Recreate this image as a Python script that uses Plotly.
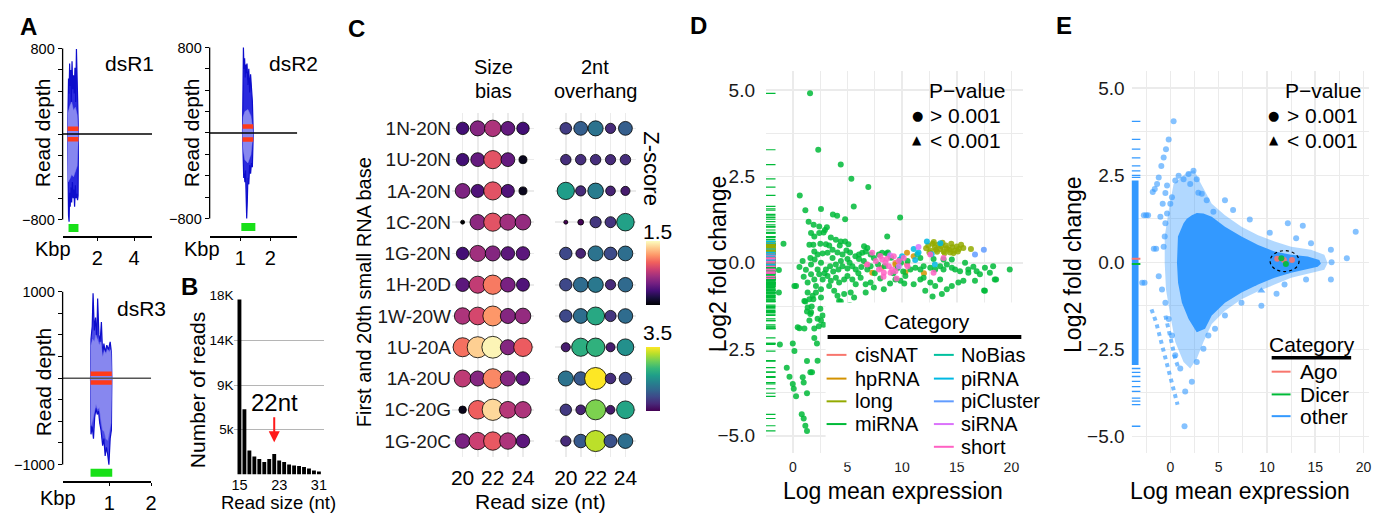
import plotly.graph_objects as go

W, H = 1381, 514
FONT = "Liberation Sans, Arial, Helvetica, sans-serif"
SYM = "DejaVu Sans"

# ======================= Panel A: read depth (Kbp, depth) =======================
dsR1_plus_x = [0.38, 0.40, 0.43, 0.46, 0.49, 0.52, 0.55, 0.58, 0.62, 0.66, 0.70, 0.74, 0.78, 0.82, 0.86, 0.90, 0.94, 0.97]
dsR1_plus_y = [0, 420, 520, 380, 660, 450, 600, 300, 680, 420, 550, 380, 620, 300, 795, 500, 150, 0]
dsR1_minus_x = [0.38, 0.40, 0.43, 0.46, 0.49, 0.52, 0.56, 0.60, 0.64, 0.68, 0.72, 0.76, 0.80, 0.84, 0.88, 0.92, 0.95, 0.97]
dsR1_minus_y = [0, -620, -760, -820, -550, -680, -500, -640, -450, -600, -520, -680, -480, -600, -560, -620, -580, 0]
dsR1_core_x = [0.38, 0.40, 0.50, 0.60, 0.70, 0.80, 0.90, 0.97]
dsR1_core_plus = [0, 200, 260, 300, 220, 250, 180, 0]
dsR1_core_minus = [0, -450, -420, -380, -400, -350, -300, 0]

dsR2_plus_x = [1.07, 1.09, 1.10, 1.12, 1.14, 1.16, 1.18, 1.20, 1.22, 1.25, 1.28, 1.31, 1.34, 1.37, 1.40, 1.43]
dsR2_plus_y = [0, 500, 800, 600, 700, 520, 640, 560, 650, 450, 600, 380, 550, 420, 300, 0]
dsR2_minus_x = [1.07, 1.09, 1.11, 1.13, 1.15, 1.17, 1.19, 1.21, 1.23, 1.25, 1.28, 1.31, 1.34, 1.37, 1.40, 1.43]
dsR2_minus_y = [0, -300, -420, -380, -460, -350, -520, -800, -640, -420, -480, -300, -380, -280, -320, 0]
dsR2_core_x = [1.07, 1.09, 1.15, 1.25, 1.35, 1.43]
dsR2_core_plus = [0, 150, 200, 220, 160, 0]
dsR2_core_minus = [0, -150, -250, -280, -200, 0]

dsR3_plus_x = [0.55, 0.56, 0.59, 0.61, 0.64, 0.67, 0.70, 0.72, 0.75, 0.78, 0.81, 0.84, 0.87, 0.90, 0.94, 0.98, 1.02, 1.05, 1.06]
dsR3_plus_y = [0, 450, 600, 980, 550, 700, 450, 920, 500, 420, 650, 260, 400, 300, 380, 330, 420, 300, 0]
dsR3_minus_x = [0.55, 0.56, 0.59, 0.62, 0.65, 0.68, 0.71, 0.74, 0.77, 0.80, 0.84, 0.87, 0.90, 0.93, 0.96, 0.99, 1.02, 1.05, 1.06]
dsR3_minus_y = [0, -650, -560, -700, -450, -350, -420, -380, -520, -600, -780, -700, -900, -800, -880, -1000, -700, -600, 0]
dsR3_core_x = [0.55, 0.56, 0.60, 0.64, 0.68, 0.72, 0.76, 0.80, 0.84, 0.88, 0.92, 0.96, 1.00, 1.04, 1.06]
dsR3_core_plus = [0, 380, 450, 420, 500, 450, 380, 420, 240, 320, 280, 330, 300, 330, 0]
dsR3_core_minus = [0, -550, -480, -400, -300, -360, -340, -480, -600, -620, -700, -720, -600, -520, 0]

# 22nt reads (red) and dsRNA locus (green bar): [start, end], depth
dsR1_red = [0.38, 0.97]; dsR1_red_depth = 50
dsR2_red = [1.07, 1.43]; dsR2_red_depth = 60
dsR3_red = [0.55, 1.06]; dsR3_red_depth = 50
dsR1_locus = [0.43, 0.97]; dsR1_locus_y = -880
dsR2_locus = [1.03, 1.50]; dsR2_locus_y = -880
dsR3_locus = [0.55, 1.07]; dsR3_locus_y = -1095

# ======================= Panel B: read size histogram =======================
read_size = list(range(15, 32))
read_count = [17600, 6550, 2400, 1800, 1550, 1250, 1550, 2050, 1400, 1250, 1000, 900, 850, 750, 600, 400, 300]
b_tickvals = [4500, 9000, 13500, 18000]
b_ticktext = ["5k", "9K", "14K", "18K"]

# ======================= Panel C: z-score dot plot =======================
rows = ["1N-20N", "1U-20N", "1A-20N", "1C-20N", "1G-20N", "1H-20D",
        "1W-20W", "1U-20A", "1A-20U", "1C-20G", "1G-20C"]
sizes_nt = [20, 21, 22, 23, 24]
size_bias_z = [
    [-0.84, -0.36, -0.06, -0.60, -0.84],
    [-0.84, -0.60, 0.36, -0.60, -1.35],
    [-0.42, -0.75, 0.36, -0.75, -1.35],
    [-1.50, -0.30, 0.36, -0.15, -0.24],
    [-0.84, -0.15, -0.36, -0.66, -0.66],
    [-0.66, 0.09, 0.66, -0.45, -0.75],
    [-0.06, 0.24, 0.84, -0.36, -0.24],
    [0.60, 1.20, 1.44, -0.36, 0.45],
    [0.06, -0.36, 0.75, -0.36, -0.66],
    [-1.38, 0.48, 1.26, 0.00, -0.06],
    [-0.45, 0.15, 0.42, -0.06, -0.66],
]
overhang_z = [
    [-0.60, 0.00, 0.40, -0.90, 0.00],
    [-0.85, -0.85, -0.85, -0.90, -0.85],
    [1.25, -0.90, 0.60, -1.00, -1.10],
    [-1.50, -1.45, -0.70, -0.75, 1.35],
    [-0.40, -1.00, 0.40, -0.35, 0.30],
    [-0.40, 0.25, 0.50, -0.90, 0.20],
    [-0.40, 0.30, 1.50, -0.70, 0.25],
    [-1.10, 1.60, 1.70, -1.10, 1.00],
    [0.40, -0.10, 3.50, -0.85, -0.40],
    [-0.65, -1.00, 2.50, -1.15, 1.40],
    [-0.90, -0.10, 3.00, -0.25, 0.30],
]
size_bias_range = [-1.5, 1.5]
overhang_range = [-1.5, 3.5]

# ======================= Panel D: MA plot, small RNA categories =======================
d_categories = ["cisNAT", "hpRNA", "long", "miRNA", "NoBias", "piRNA", "piCluster", "siRNA", "short"]
d_colors = ["#F8766D", "#D39200", "#93AA00", "#00BA38", "#00C19F", "#00B9E3", "#619CFF", "#DB72FB", "#FF61C3"]
d_mirna = [
    (1.58, 4.90), (2.33, 3.27), (4.39, 2.84), (5.36, 2.43), (6.91, 2.19), (0.64, 1.95), (1.15, 1.52), (2.58, 1.56),
    (5.58, 1.63), (3.67, 1.40), (4.06, 1.36), (4.79, 1.26), (9.82, 1.31), (1.45, 1.19), (1.91, 1.10), (2.42, 1.05),
    (3.12, 1.03), (2.94, 0.95), (1.67, 0.86), (2.42, 0.86), (2.82, 0.88), (1.97, 0.76), (3.48, 0.73), (3.94, 0.67),
    (4.39, 0.62), (4.79, 0.62), (5.09, 0.54), (4.30, 0.50), (3.03, 0.54), (3.33, 0.50), (2.52, 0.55), (1.88, 0.52),
    (1.52, 0.52), (-0.85, 0.55), (8.64, 0.76), (6.52, 0.48), (6.82, 0.43), (6.67, 0.33), (6.36, 0.29), (6.06, 0.24),
    (5.73, 0.19), (8.58, 0.27), (7.88, 0.24), (8.18, 0.29), (1.97, 0.33), (2.27, 0.24), (2.73, 0.27), (3.18, 0.29),
    (3.64, 0.38), (4.09, 0.30), (4.55, 0.24), (4.91, 0.36), (5.24, 0.30), (1.61, 0.14), (3.64, 0.14), (5.00, 0.11),
    (6.06, 0.11), (7.12, 0.24), (7.42, 0.14), (0.90, 0.05), (2.00, 0.10), (4.40, 0.05), (5.20, 0.00), (6.50, 0.05),
    (-1.27, -0.21), (0.61, -0.12), (1.67, -0.05), (2.27, -0.19), (2.58, 0.00), (3.03, -0.19), (3.42, -0.10), (3.94, -0.05),
    (4.18, -0.19), (4.55, -0.10), (5.00, -0.16), (5.45, -0.10), (5.76, -0.19), (6.27, -0.12), (6.82, -0.19), (7.12, -0.10),
    (10.76, -0.19), (11.21, -0.14), (11.67, -0.19), (11.97, -0.10), (12.58, -0.14), (13.03, -0.19), (13.48, -0.10),
    (13.79, -0.19), (14.09, -0.05), (14.55, -0.14), (14.85, -0.19), (15.30, -0.24), (15.76, 0.00), (16.06, -0.19),
    (16.52, -0.11), (16.82, -0.24), (17.58, -0.14), (18.33, -0.10), (19.85, -0.19), (12.88, 0.11), (13.79, 0.10),
    (14.55, 0.10), (11.67, 0.14), (1.20, -0.20), (2.90, -0.30), (3.70, -0.25), (6.00, -0.30), (7.50, -0.30),
    (7.80, -0.05), (8.00, -0.45), (8.90, -0.60), (9.60, -0.15), (10.20, -0.60), (10.50, 0.05), (8.40, -0.10),
    (9.00, 0.15), (9.20, -0.30), (9.90, 0.00), (10.10, -0.25), (8.70, 0.30),
    (1.00, -0.40), (1.67, -0.33), (1.97, -0.48), (2.42, -0.33), (2.73, -0.48), (3.18, -0.38), (3.48, -0.52), (3.94, -0.43),
    (4.24, -0.57), (4.70, -0.48), (5.00, -0.38), (5.45, -0.48), (5.76, -0.62), (6.21, -0.43), (6.67, -0.62), (7.12, -0.57),
    (7.42, -0.71), (8.33, -0.76), (0.30, -0.67), (1.36, -0.57), (2.12, -0.67), (2.58, -0.76), (3.33, -0.67), (3.79, -0.81),
    (4.24, -1.10), (4.70, -0.90), (5.30, -0.86), (5.61, -1.00), (6.67, -0.86), (1.36, -0.86), (1.88, -1.05), (2.58, -1.00),
    (1.06, -1.10), (11.06, -0.62), (11.67, -0.48), (12.12, -0.81), (12.58, -0.57), (13.03, -0.67), (13.48, -0.48),
    (14.09, -0.76), (14.55, -0.67), (15.15, -0.57), (15.61, -0.52), (16.06, -0.29), (16.67, -0.52), (17.12, -0.33),
    (17.58, -0.81), (18.03, -0.29), (18.48, -0.48), (12.79, -0.97), (13.64, -0.90), (11.97, -0.43), (10.30, -0.38),
    (9.85, -0.52), (9.39, -0.48), (17.50, -0.80), (18.60, -0.48), (-1.27, -0.86), (0.15, -0.67), (1.15, -1.12),
    (1.52, -1.05), (1.82, -0.95), (2.12, -0.86), (1.36, -1.29), (1.67, -1.43), (2.52, -1.33), (2.73, -1.52), (2.58, -1.67),
    (1.97, -1.90), (3.33, -1.38), (4.39, -1.12), (5.21, -1.22), (4.09, -0.95), (1.52, -1.67),
    (1.30, -1.41), (1.61, -1.48), (1.73, -1.26), (2.27, -1.62), (2.82, -1.79), (2.39, -1.83), (0.45, -1.86), (0.61, -1.89),
    (1.06, -1.90), (1.97, -2.17), (2.21, -2.33), (-1.18, -2.36), (0.00, -2.33), (0.15, -2.55), (1.30, -2.84), (2.27, -2.83),
    (-0.55, -3.03), (-0.30, -3.29), (0.91, -3.31), (1.00, -3.46), (0.00, -3.50), (0.09, -3.64), (1.61, -3.16), (1.76, -3.16),
    (0.30, -3.86), (1.30, -3.77), (0.82, -4.38), (1.00, -4.50), (1.15, -4.71), (1.30, -4.86),
]
d_long = [
    (12.2, 0.42), (12.4, 0.50), (12.6, 0.35), (12.8, 0.55), (13.0, 0.45), (13.1, 0.38), (13.3, 0.52), (13.5, 0.40),
    (13.6, 0.48), (13.8, 0.33), (14.0, 0.50), (14.1, 0.42), (14.3, 0.38), (14.5, 0.55), (14.6, 0.45), (14.8, 0.35),
    (15.0, 0.47), (15.2, 0.40), (15.4, 0.52), (15.6, 0.43), (12.5, 0.30), (13.2, 0.32), (13.9, 0.28), (14.4, 0.30),
    (15.1, 0.33), (12.9, 0.60), (13.7, 0.58), (14.7, 0.28), (16.3, 0.40),
]
d_pirna = [(11.06, 0.40), (12.27, 0.62), (11.5, 0.30), (10.0, 0.19), (11.2, 0.08), (13.5, 0.57), (13.0, -0.05), (12.7, 0.25)]
d_picluster = [(17.48, 0.38), (16.67, 0.24)]
d_sirna = [(11.5, 0.46), (9.7, -0.10), (8.9, 0.22)]
d_short = [
    (6.82, -0.05), (7.27, 0.29), (8.18, 0.10), (8.48, 0.00), (8.79, -0.10), (9.09, -0.19), (8.33, -0.29), (9.24, 0.19),
    (9.70, 0.05), (10.15, 0.14), (12.88, -0.29), (13.79, 0.14), (12.58, 0.24), (7.88, -0.19), (8.94, -0.29),
    (8.64, 0.12), (9.39, -0.24), (8.00, 0.20), (9.50, -0.45), (10.50, -0.10), (7.60, 0.05), (8.30, -0.40),
]
d_cisnat = [(6.76, -0.05), (9.39, 0.00), (10.45, -0.05), (8.10, -0.15)]
d_hprna = [(7.27, -0.29), (9.39, -0.05), (10.45, 0.29), (11.06, 0.19), (10.30, -0.27), (12.00, -0.30)]
d_nobias = [(9.8, 0.10), (11.4, 0.25)]

# ======================= Panel E: MA plot, Ago / Dicer =======================
e_core_x = [0.69, 0.79, 1.37, 1.71, 2.23, 2.74, 3.43, 4.29, 5.66, 7.37, 9.09, 10.80, 12.52, 14.23, 15.43, 15.60,
            15.26, 13.89, 12.52, 10.80, 9.09, 7.37, 5.66, 4.29, 3.60, 2.74, 1.89, 1.20, 0.80]
e_core_y = [-0.02, 0.74, 1.12, 1.25, 1.35, 1.42, 1.40, 1.31, 1.02, 0.74, 0.50, 0.31, 0.22, 0.17, 0.07, -0.04,
            -0.13, -0.21, -0.30, -0.44, -0.64, -0.87, -1.16, -1.53, -1.91, -2.01, -1.63, -1.16, -0.59]
e_halo_x = [-0.58, -0.58, -0.17, 0.34, 1.71, 2.47, 3.09, 4.29, 5.66, 7.37, 9.09, 10.80, 12.52, 14.57, 15.95, 16.29,
            15.95, 14.57, 12.52, 10.80, 9.09, 7.37, 5.66, 4.29, 3.43, 2.74, 2.06, 1.37, 0.51, 0.00, -0.45]
e_halo_y = [-0.02, 0.74, 1.49, 2.25, 2.58, 2.65, 2.30, 1.68, 1.35, 1.02, 0.78, 0.60, 0.45, 0.36, 0.22, -0.02,
            -0.21, -0.30, -0.44, -0.64, -0.83, -1.06, -1.39, -1.77, -2.29, -2.77, -3.05, -2.86, -2.29, -1.53, -0.78]
e_other = [
    (0.51, 2.35), (0.86, 2.49), (1.37, 2.39), (1.89, 2.54), (2.40, 2.63), (2.06, 2.25), (2.74, 2.39), (0.17, 1.87),
    (0.00, 1.68), (-0.34, 1.40), (-0.51, 1.12), (-0.58, 0.74), (-0.69, 0.45), (4.46, 1.45), (3.77, 1.78), (3.26, 1.97),
    (5.66, 1.78), (8.23, 1.23), (12.17, 1.12), (13.72, 1.05), (13.03, 0.69), (14.57, 0.55), (16.63, 0.36), (16.70, 0.00),
    (18.28, 0.12), (19.20, 0.88), (16.63, -0.49), (14.06, -0.49), (11.83, -0.64), (9.43, -1.25), (7.37, -1.16),
    (5.66, -1.53), (4.63, -1.91), (3.94, -2.10), (3.43, -2.48), (2.74, -2.86), (2.23, -3.43), (1.54, -3.71), (1.03, -3.05),
    (0.51, -2.67), (0.17, -2.10), (-0.17, -1.63), (-0.51, -1.16), (-0.86, -0.78), (-1.20, -0.40), (1.47, -4.71),
    (0.34, 4.05), (-0.17, 3.53), (-0.45, 3.25), (-0.69, 3.01), (-0.93, 2.77), (-1.20, 2.44), (-1.37, 2.25), (-1.61, 2.11),
    (-1.82, 2.02), (-0.34, 2.21), (-0.51, 1.99), (-0.79, 1.68), (-1.03, 1.31), (-2.74, 1.35), (-2.50, 1.35), (-2.30, 1.35),
    (-1.71, 0.39), (-1.47, 0.39), (-2.91, -0.59), (-2.67, -0.59), (10.3, 0.85), (11.0, -0.9), (6.5, 1.5), (2.9, 2.0),
]
e_other_sig = [(9.43, -0.82), (8.50, -0.62)]
e_streak1_x = [-1.95, -1.71, -1.47, -1.20, -1.03, -0.79, -0.51, -0.17, 0.17, 0.51, 0.75]
e_streak1_y = [-1.35, -1.53, -1.72, -2.01, -2.20, -2.48, -2.77, -3.14, -3.52, -3.86, -4.09]
e_streak2_x = [-0.51, -0.27, 0.00, 0.17, 0.51, 0.86]
e_streak2_y = [-1.53, -1.82, -2.10, -2.39, -2.77, -3.05]
e_ago = [(11.07, 0.10), (11.76, 0.07), (12.60, 0.07)]
e_dicer = [(11.50, 0.12), (11.97, -0.05)]
e_rug_band = [-2.95, 2.35]
e_rug_ticks = [4.05, 3.53, 3.25, 3.00, 2.77, 2.63, 2.50, 2.44, -3.05, -3.16, -3.28, -3.42, -3.57, -3.71,
               -3.90, -3.99, -4.09, -4.71]
e_categories = ["Ago", "Dicer", "other"]
e_colors = ["#F8766D", "#00BA38", "#3399FF"]

# ======================= helpers =======================
def xdom(a, b):
    return [a / W, b / W]

def ydom(top, bot):
    return [1 - bot / H, 1 - top / H]

def unzip(pts):
    return [p[0] for p in pts], [p[1] for p in pts]

annotations = []
shapes = []

def ann(text, x, y, size, angle=0, xanchor="center", bold=False, family=FONT, color="black", yanchor="middle"):
    annotations.append(dict(text=("<b>%s</b>" % text) if bold else text, x=x / W, y=1 - y / H,
                            xref="paper", yref="paper", showarrow=False, textangle=angle,
                            xanchor=xanchor, yanchor=yanchor, borderpad=0,
                            font=dict(size=size, family=family, color=color)))

def pline(x0, y0, x1, y1, color, width, layer="above"):
    shapes.append(dict(type="line", xref="paper", yref="paper", x0=x0 / W, x1=x1 / W,
                       y0=1 - y0 / H, y1=1 - y1 / H, line=dict(color=color, width=width), layer=layer))

fig = go.Figure()

# ---------------- Panel A traces ----------------
A_panels = [
    ("x", "y", dsR1_plus_x, dsR1_plus_y, dsR1_minus_x, dsR1_minus_y, dsR1_core_x, dsR1_core_plus, dsR1_core_minus,
     dsR1_red, dsR1_red_depth, dsR1_locus, dsR1_locus_y, "#2a2ade"),
    ("x2", "y2", dsR2_plus_x, dsR2_plus_y, dsR2_minus_x, dsR2_minus_y, dsR2_core_x, dsR2_core_plus, dsR2_core_minus,
     dsR2_red, dsR2_red_depth, dsR2_locus, dsR2_locus_y, "#2a2ade"),
    ("x3", "y3", dsR3_plus_x, dsR3_plus_y, dsR3_minus_x, dsR3_minus_y, dsR3_core_x, dsR3_core_plus, dsR3_core_minus,
     dsR3_red, dsR3_red_depth, dsR3_locus, dsR3_locus_y, "#4a4ae6"),
]
for (xa, ya, px_, py_, mx_, my_, cx_, cp_, cm_, red, rd, loc, locy, outer) in A_panels:
    for xs, ys in ((px_, py_), (mx_, my_)):
        fig.add_trace(go.Scatter(x=xs, y=ys, xaxis=xa, yaxis=ya, mode="lines", fill="tozeroy",
                                 fillcolor=outer, line=dict(color="#0d0dcc", width=1.2), hoverinfo="skip"))
    for ys in (cp_, cm_):
        fig.add_trace(go.Scatter(x=cx_, y=ys, xaxis=xa, yaxis=ya, mode="lines", fill="tozeroy",
                                 fillcolor="#8787ef", line=dict(color="#8787ef", width=0.5), hoverinfo="skip"))
    for sgn in (1, -1):
        fig.add_trace(go.Scatter(x=red, y=[sgn * rd, sgn * rd], xaxis=xa, yaxis=ya, mode="lines",
                                 line=dict(color="#ff3a1a", width=4.5), hoverinfo="skip"))
    fig.add_trace(go.Scatter(x=loc, y=[locy, locy], xaxis=xa, yaxis=ya, mode="lines",
                             line=dict(color="#18e018", width=8), hoverinfo="skip"))

# ---------------- Panel B ----------------
fig.add_trace(go.Bar(x=read_size, y=read_count, xaxis="x4", yaxis="y4", marker=dict(color="black", line=dict(width=0)),
                     width=0.78, hoverinfo="skip"))

# ---------------- Panel C ----------------
def dot_size(z, rng):
    t = max((z - rng[0]) / (rng[1] - rng[0]), 0.0)
    return 4 + 18 * t ** 0.5

for zmat, rng, cs, xa, cb_top, cb_bot in ((size_bias_z, size_bias_range, "magma", "x5", 238, 302),
                                          (overhang_z, overhang_range, "viridis", "x6", 345, 409)):
    xs, ys, zs = [], [], []
    for r, zrow in zip(rows, zmat):
        for s, z in zip(sizes_nt, zrow):
            xs.append(s); ys.append(r); zs.append(z)
    fig.add_trace(go.Scatter(
        x=xs, y=ys, xaxis=xa, yaxis="y5" if xa == "x5" else "y6", mode="markers", hoverinfo="skip",
        marker=dict(color=zs, colorscale=cs, cmin=rng[0], cmax=rng[1], size=[dot_size(z, rng) for z in zs],
                    line=dict(color="black", width=0.8), opacity=1,
                    colorbar=dict(x=647 / W, xanchor="left", xpad=0, ypad=0, thickness=14, lenmode="pixels",
                                  len=cb_bot - cb_top, y=1 - (cb_top + cb_bot) / 2 / H, yanchor="middle",
                                  outlinewidth=0, ticks="", showticklabels=False))))

# ---------------- Panel D ----------------
d_groups = {"cisNAT": d_cisnat, "hpRNA": d_hprna, "long": d_long, "miRNA": d_mirna, "NoBias": d_nobias,
            "piRNA": d_pirna, "piCluster": d_picluster, "siRNA": d_sirna, "short": d_short}
D_XR = [-2.45, 21.09]
D_YR = [-5.49, 5.54]
E_XR = [-4.01, 20.58]
E_YR = [-5.47, 5.49]

def rug(vals, xr, color, xa, ya, width=1.2):
    x0, x1 = xr[0], xr[0] + 0.037 * (xr[1] - xr[0])
    xs, ys = [], []
    for v in vals:
        xs += [x0, x1, None]; ys += [v, v, None]
    return go.Scatter(x=xs, y=ys, xaxis=xa, yaxis=ya, mode="lines", line=dict(color=color, width=width),
                      hoverinfo="skip")

for cat, col in zip(d_categories, d_colors):
    xs, ys = unzip(d_groups[cat])
    fig.add_trace(go.Scatter(x=xs, y=ys, xaxis="x7", yaxis="y7", mode="markers", hoverinfo="skip",
                             marker=dict(color=col, size=6, opacity=0.85, line=dict(width=0))))
for cat, col in zip(["miRNA", "long", "short", "piRNA"], ["#00BA38", "#93AA00", "#FF61C3", "#00B9E3"]):
    fig.add_trace(rug(unzip(d_groups[cat])[1], D_XR, col, "x7", "y7"))

# ---------------- Panel E ----------------
fig.add_trace(go.Scatter(x=e_halo_x, y=e_halo_y, xaxis="x8", yaxis="y8", mode="lines", fill="toself",
                         fillcolor="rgba(51,153,255,0.38)", line=dict(width=0), hoverinfo="skip"))
fig.add_trace(go.Scatter(x=e_core_x, y=e_core_y, xaxis="x8", yaxis="y8", mode="lines", fill="toself",
                         fillcolor="#3399FF", line=dict(width=0), hoverinfo="skip"))
ox, oy = unzip(e_other)
fig.add_trace(go.Scatter(x=ox, y=oy, xaxis="x8", yaxis="y8", mode="markers", hoverinfo="skip",
                         marker=dict(color="#3399FF", size=6, opacity=0.6, line=dict(width=0))))
sx, sy = unzip(e_other_sig)
fig.add_trace(go.Scatter(x=sx, y=sy, xaxis="x8", yaxis="y8", mode="markers", hoverinfo="skip",
                         marker=dict(color="#3399FF", size=7, opacity=0.7, symbol="triangle-up", line=dict(width=0))))
for xs, ys in ((e_streak1_x, e_streak1_y), (e_streak2_x, e_streak2_y)):
    fig.add_trace(go.Scatter(x=xs, y=ys, xaxis="x8", yaxis="y8", mode="lines", hoverinfo="skip",
                             line=dict(color="rgba(51,153,255,0.65)", width=4, dash="dot")))
for pts, col in ((e_ago, e_colors[0]), (e_dicer, e_colors[1])):
    xs, ys = unzip(pts)
    fig.add_trace(go.Scatter(x=xs, y=ys, xaxis="x8", yaxis="y8", mode="markers", hoverinfo="skip",
                             marker=dict(color=col, size=6, opacity=0.9, line=dict(width=0))))
# rug for E
e_rx = E_XR[0] + 0.0145 * (E_XR[1] - E_XR[0])
fig.add_trace(go.Scatter(x=[e_rx, e_rx], y=e_rug_band, xaxis="x8", yaxis="y8", mode="lines",
                         line=dict(color="#3399FF", width=7), hoverinfo="skip"))
fig.add_trace(rug(e_rug_ticks, E_XR, "#3399FF", "x8", "y8", width=1.3))
fig.add_trace(rug([e_ago[0][1]], E_XR, e_colors[0], "x8", "y8", width=2))
fig.add_trace(rug([e_dicer[1][1]], E_XR, e_colors[1], "x8", "y8", width=2))

# highlight ellipse around Ago/Dicer points
hx = [p[0] for p in e_ago + e_dicer]
hy = [p[1] for p in e_ago + e_dicer]
cxm, cym = (min(hx) + max(hx)) / 2, (min(hy) + max(hy)) / 2
shapes.append(dict(type="circle", xref="x8", yref="y8", x0=cxm - 1.5, x1=cxm + 1.5, y0=cym - 0.3, y1=cym + 0.3,
                   line=dict(color="black", width=1.2, dash="dot"), layer="above"))

# ---------------- Axes ----------------
TF = dict(family=FONT, color="black")

def axis(**kw):
    d = dict(showgrid=False, zeroline=False, showline=False, ticks="", fixedrange=True,
             tickfont=dict(TF, size=14))
    d.update(kw)
    return d

layout = dict(width=W, height=H, margin=dict(l=0, r=0, t=0, b=0), paper_bgcolor="white",
              plot_bgcolor="rgba(0,0,0,0)", showlegend=False, font=dict(family=FONT, color="black"))

a_xcommon = dict(showline=True, linecolor="black", linewidth=1.3, ticks="outside", ticklen=3,
                 tickcolor="black", tickfont=dict(TF, size=20))
def a_y(vals, lab):
    return dict(tickvals=vals, ticktext=[("−%d" % abs(v)) if v == -lab else (str(v) if v == lab else "") for v in vals],
                ticks="outside", ticklen=4, tickcolor="black", tickfont=dict(TF, size=14.5))

layout["xaxis"] = axis(domain=xdom(60, 150), range=[0.108, 4.97], anchor="y", tickvals=[2, 4], **a_xcommon)
layout["yaxis"] = axis(domain=ydom(40, 233), range=[-957, 828], anchor="x", **a_y(list(range(-800, 801, 200)), 800))
layout["xaxis2"] = axis(domain=xdom(208, 296), range=[-0.033, 2.9], anchor="y2", tickvals=[1, 2], **a_xcommon)
layout["yaxis2"] = axis(domain=ydom(40, 233), range=[-966, 818], anchor="x2", **a_y(list(range(-800, 801, 200)), 800))
layout["xaxis3"] = axis(domain=xdom(60, 149), range=[-0.12, 2.0], anchor="y3", tickvals=[1, 2], **a_xcommon)
layout["yaxis3"] = axis(domain=ydom(285, 481), range=[-1194, 1046], anchor="x3", **a_y(list(range(-1000, 1001, 250)), 1000))

for xa, ya, zc in (("x", "y", "black"), ("x2", "y2", "black"), ("x3", "y3", "#555555")):
    shapes.append(dict(type="line", xref=xa + " domain", yref=ya, x0=0, x1=1, y0=0, y1=0,
                       line=dict(color=zc, width=1.5), layer="above"))
for xa, ya, lab in (("x", "y", 800), ("x2", "y2", 800), ("x3", "y3", 1000)):
    shapes.append(dict(type="line", xref=xa + " domain", yref=ya, x0=0, x1=0, y0=-lab, y1=lab,
                       line=dict(color="black", width=1.3), layer="above"))

layout["xaxis4"] = axis(domain=xdom(233, 323), range=[14, 32], anchor="y4", tickvals=[15, 23, 31],
                        tickfont=dict(TF, size=14.5), ticklabelstandoff=0)
layout["yaxis4"] = axis(domain=ydom(292, 474), range=[0, 18100], anchor="x4", tickvals=b_tickvals, ticktext=b_ticktext,
                        showgrid=True, gridcolor="#b5b5b5", gridwidth=1, tickfont=dict(TF, size=13.5))

c_x = dict(tickvals=sizes_nt, ticktext=["20", "", "22", "", "24"], showgrid=True, gridcolor="#ebebeb", gridwidth=1.6,
           tickfont=dict(TF, size=21), range=[19.3, 24.7], ticklabelstandoff=6)
c_y = dict(type="category", categoryorder="array", categoryarray=rows, range=[10.5, -0.5], showgrid=True,
           gridcolor="#ebebeb", gridwidth=1.6, tickfont=dict(TF, size=19, color="#1a1a1a"))
layout["xaxis5"] = axis(domain=xdom(452, 534), anchor="y5", **c_x)
layout["yaxis5"] = axis(domain=ydom(108, 456), anchor="x5", **c_y)
layout["xaxis6"] = axis(domain=xdom(556, 637), anchor="y6", **c_x)
layout["yaxis6"] = axis(domain=ydom(108, 456), anchor="x6", showticklabels=False, **c_y)

GRID = "#ebebeb"
def ma_x(dom, rng, ya):
    return axis(domain=xdom(*dom), range=rng, anchor=ya, tickmode="linear", tick0=0, dtick=5, showgrid=True,
                gridcolor=GRID, gridwidth=1.6, minor=dict(dtick=2.5, showgrid=True, gridcolor=GRID, gridwidth=1),
                tickfont=dict(TF, size=14, color="#1a1a1a"), ticklabelstandoff=4)
def ma_y(rng, xa, standoff):
    return axis(domain=ydom(66, 452), range=rng, anchor=xa, tickmode="linear", tick0=0, dtick=2.5, tickformat=".1f",
                showgrid=True, gridcolor=GRID, gridwidth=1.6,
                minor=dict(dtick=1.25, showgrid=True, gridcolor=GRID, gridwidth=1),
                tickfont=dict(TF, size=19, color="#1a1a1a"), ticklabelstandoff=standoff)
layout["xaxis7"] = ma_x((768, 1027), D_XR, "y7")
layout["yaxis7"] = ma_y(D_YR, "x7", 10)
layout["xaxis8"] = ma_x((1136, 1375), E_XR, "y8")
layout["yaxis8"] = ma_y(E_YR, "x8", 6)

# ---------------- Legends (D) ----------------
shapes.append(dict(type="rect", xref="paper", yref="paper", x0=828 / W, x1=1045 / W, y0=1 - 462 / H, y1=1 - 300 / H,
                   fillcolor="white", line=dict(width=0), layer="above"))
pline(830, 335, 1025, 335, "black", 4)
ann("Category", 930, 319, 21)
leg_rows = [353, 377, 400, 423, 446]
for i, (cat, col) in enumerate(zip(d_categories, d_colors)):
    if i < 4:
        lx, tx, yy = 829, 857, leg_rows[i]
    else:
        lx, tx, yy = 937, 963, leg_rows[i - 4]
    pline(lx, yy, lx + 20, yy, col, 2)
    ann(cat, tx, yy, 20, xanchor="left")

for cxp, sym_x in ((970, 920), (1329, 1279)):
    ann("P−value", cxp, 85, 21)
    ann("●", sym_x, 111, 13, family=SYM)
    ann("▲", sym_x, 136, 12, family=SYM)
    ann("> 0.001", sym_x + 12, 111, 21, xanchor="left")
    ann("< 0.001", sym_x + 12, 136, 21, xanchor="left")

# ---------------- Legend (E) ----------------
ann("Category", 1318, 342, 21)
pline(1277, 356, 1357, 356, "black", 3.5)
for cat, col, yy in zip(e_categories, e_colors, [370, 393, 415]):
    pline(1277, yy, 1296, yy, col, 2)
    ann(cat, 1305, yy, 21, xanchor="left")

# ---------------- Text ----------------
ann("A", 26, 21, 24, bold=True)
ann("B", 188, 284, 24, bold=True)
ann("C", 356, 23, 24, bold=True)
ann("D", 700, 20, 24, bold=True)
ann("E", 1068, 20, 24, bold=True)

ann("dsR1", 127, 58, 21)
ann("dsR2", 292, 58, 21)
ann("dsR3", 139, 306, 21)
ann("Read depth", 40, 128, 21, angle=-90)
ann("Read depth", 190, 128, 21, angle=-90)
ann("Read depth", 41, 380, 21, angle=-90)
ann("Kbp", 50, 246, 20)
ann("Kbp", 200, 246, 20)
ann("Kbp", 55, 498, 20)

ann("Number of reads", 196, 389, 21, angle=-90)
ann("Read size (nt)", 277, 514, 18.5, yanchor="bottom")
annotations.append(dict(text="22nt", x=22, y=3250, xref="x4", yref="y4", showarrow=True, ax=0, ay=-40,
                        arrowcolor="#ff1a1a", arrowwidth=2, arrowhead=2, arrowsize=1.1, standoff=0,
                        font=dict(family=FONT, size=24, color="black")))

ann("Size", 494, 62, 20)
ann("bias", 494, 86, 20)
ann("2nt", 596, 62, 20)
ann("overhang", 596, 86, 20)
ann("Z-score", 653, 165, 22, angle=90)
ann("1.5", 659, 228, 21)
ann("3.5", 659, 330, 21)
ann("First and 20th small RNA base", 363, 290, 20, angle=-90)
ann("Read size (nt)", 541, 501, 21)

ann("Log2 fold change", 720, 261, 23, angle=-90)
ann("Log mean expression", 896, 491, 23)
ann("Log2 fold change", 1077, 261, 23, angle=-90)
ann("Log mean expression", 1245, 491, 23)

layout["annotations"] = annotations
layout["shapes"] = shapes
fig.update_layout(**layout)
fig.write_html("out.html", config={"displayModeBar": False, "staticPlot": True},
               post_script="document.body.style.margin='0px';document.body.style.overflow='hidden';")
